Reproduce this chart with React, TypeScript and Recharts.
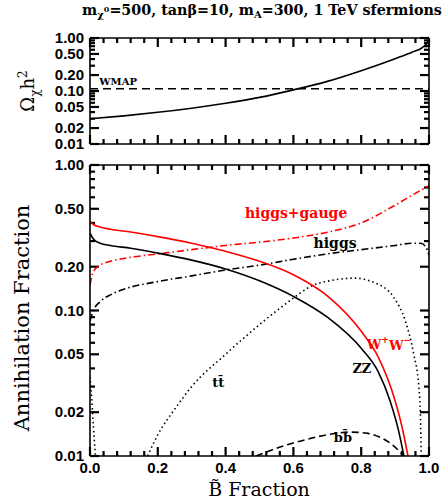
import React from 'react';
import { LineChart, Line, XAxis, YAxis, ReferenceDot, ReferenceLine } from 'recharts';

// tick positions
const xMajor = [0, 0.2, 0.4, 0.6, 0.8, 1.0];
const xAll = [0, 0.04, 0.08, 0.12, 0.16, 0.2, 0.24, 0.28, 0.32, 0.36, 0.4, 0.44, 0.48, 0.52, 0.56, 0.6,
  0.64, 0.68, 0.72, 0.76, 0.8, 0.84, 0.88, 0.92, 0.96, 1.0];
const yMajor = [0.01, 0.02, 0.05, 0.1, 0.2, 0.5, 1.0];
const yAll = [0.01, 0.02, 0.03, 0.04, 0.05, 0.06, 0.07, 0.08, 0.09, 0.1, 0.2, 0.3, 0.4, 0.5, 0.6, 0.7, 0.8, 0.9, 1.0];

// top panel: relic density
const omegaX = [0, 0.1, 0.2, 0.3, 0.4, 0.5, 0.6, 0.7, 0.8, 0.9, 0.95, 0.98, 0.995, 1.0];
const omegaY = [0.030, 0.034, 0.0396, 0.0474, 0.0587, 0.0757, 0.105, 0.152, 0.242, 0.408, 0.54, 0.66, 0.82, 1.0];
const wmapX = [0, 1];
const wmapY = [0.11, 0.11];

// bottom panel: annihilation fractions
const wwX = [0, 0.01, 0.03, 0.06, 0.12, 0.2, 0.3, 0.4, 0.5, 0.6, 0.7, 0.8, 0.85, 0.9, 0.92, 0.938];
const wwY = [0.41, 0.39, 0.375, 0.362, 0.346, 0.322, 0.29, 0.255, 0.218, 0.176, 0.126, 0.072, 0.048, 0.024, 0.016, 0.01];
const zzX = [0, 0.01, 0.03, 0.06, 0.12, 0.2, 0.3, 0.4, 0.5, 0.6, 0.7, 0.8, 0.85, 0.885, 0.91, 0.926];
const zzY = [0.34, 0.31, 0.29, 0.28, 0.268, 0.248, 0.222, 0.193, 0.16, 0.125, 0.09, 0.055, 0.038, 0.024, 0.015, 0.01];
const hgX = [0, 0.01, 0.03, 0.06, 0.1, 0.2, 0.3, 0.4, 0.5, 0.6, 0.7, 0.8, 0.9, 0.95, 1.0];
const hgY = [0.15, 0.185, 0.205, 0.218, 0.228, 0.245, 0.262, 0.28, 0.295, 0.315, 0.345, 0.40, 0.53, 0.62, 0.72];
const higgsX = [0, 0.01, 0.03, 0.06, 0.1, 0.2, 0.3, 0.4, 0.5, 0.6, 0.7, 0.8, 0.9, 0.95, 0.975, 0.99, 1.0];
const higgsY = [0.085, 0.10, 0.115, 0.128, 0.14, 0.158, 0.173, 0.19, 0.205, 0.225, 0.245, 0.262, 0.28, 0.29, 0.29, 0.275, 0.24];
const ttX = [0.17, 0.2, 0.25, 0.3, 0.4, 0.5, 0.59, 0.65, 0.72, 0.78, 0.84, 0.895, 0.93, 0.955, 0.97, 0.975, 0.977];
const ttY = [0.01, 0.014, 0.021, 0.03, 0.05, 0.08, 0.117, 0.146, 0.162, 0.167, 0.155, 0.124, 0.085, 0.05, 0.03, 0.018, 0.01];
const ttLowX = [0, 0.005, 0.01, 0.016];
const ttLowY = [0.035, 0.025, 0.016, 0.01];
const bbX = [0.49, 0.55, 0.6, 0.65, 0.7, 0.77, 0.82, 0.86, 0.9, 0.925];
const bbY = [0.01, 0.0113, 0.0123, 0.0132, 0.014, 0.0146, 0.0143, 0.0133, 0.0115, 0.01];

const pts = (xs: number[], ys: number[]) => xs.map((x, i) => ({ x, y: ys[i] }));

const serif = 'DejaVu Serif, serif';
const sans = 'Liberation Sans, Arial, sans-serif';
const frameLine = { stroke: '#000', strokeWidth: 1.6 };
const PLOT_W = 339;
const TICK_W = 2.2;

const isIn = (arr: number[], v: number) => arr.some((m) => Math.abs(m - v) < 1e-9);
const tickLen = (major: boolean) => (major ? 9 : 5);

// labels only, tick marks are reference segments
const xLabel = (labels: boolean) => (props: any) => {
  const { x, y, payload } = props;
  if (!labels || !isIn(xMajor, payload.value)) return <g />;
  return (
    <text x={x} y={y + 17} textAnchor="middle" fontFamily={sans} fontSize={15} fontWeight="bold" fill="#000">
      {payload.value.toFixed(1)}
    </text>
  );
};

const yLabel = (props: any) => {
  const { x, y, payload } = props;
  if (!isIn(yMajor, payload.value)) return <g />;
  return (
    <text x={x - 6} y={y + 5} textAnchor="end" fontFamily={sans} fontSize={15} fontWeight="bold" fill="#000">
      {payload.value.toFixed(2)}
    </text>
  );
};

// inward tick marks on all four sides; decadePx = pixels per decade of the panel
const tickMarks = (decadePx: number) => [
  ...xAll.flatMap((v) => {
    const f = Math.pow(10, tickLen(isIn(xMajor, v)) / decadePx);
    return [
      <ReferenceLine key={`xb${v}`} xAxisId="x" yAxisId="y" ifOverflow="visible"
        segment={[{ x: v, y: 0.01 }, { x: v, y: 0.01 * f }]} stroke="#000" strokeWidth={TICK_W} />,
      <ReferenceLine key={`xt${v}`} xAxisId="x" yAxisId="y" ifOverflow="visible"
        segment={[{ x: v, y: 1 }, { x: v, y: 1 / f }]} stroke="#000" strokeWidth={TICK_W} />,
    ];
  }),
  ...yAll.flatMap((v) => {
    const d = tickLen(isIn(yMajor, v)) / PLOT_W;
    return [
      <ReferenceLine key={`yl${v}`} xAxisId="x" yAxisId="y" ifOverflow="visible"
        segment={[{ x: 0, y: v }, { x: d, y: v }]} stroke="#000" strokeWidth={TICK_W} />,
      <ReferenceLine key={`yr${v}`} xAxisId="x" yAxisId="y" ifOverflow="visible"
        segment={[{ x: 1, y: v }, { x: 1 - d, y: v }]} stroke="#000" strokeWidth={TICK_W} />,
    ];
  }),
];

const frame = (labels: boolean) => [
  <XAxis key="x" xAxisId="x" dataKey="x" type="number" domain={[0, 1]} allowDataOverflow ticks={xAll}
    interval={0} height={labels ? 46 : 14} tickSize={0} tickMargin={0} axisLine={frameLine}
    tick={xLabel(labels)} />,
  <XAxis key="xt" xAxisId="xt" dataKey="x" type="number" domain={[0, 1]} allowDataOverflow
    orientation="top" mirror height={10} tick={false} tickLine={false} axisLine={frameLine} />,
  <YAxis key="y" yAxisId="y" dataKey="y" type="number" scale="log" domain={[0.01, 1]} allowDataOverflow ticks={yAll}
    interval={0} width={90} tickSize={0} tickMargin={0} axisLine={frameLine} tick={yLabel} />,
  <YAxis key="yr" yAxisId="yr" dataKey="y" type="number" scale="log" domain={[0.01, 1]} allowDataOverflow
    orientation="right" mirror width={10} tick={false} tickLine={false} axisLine={frameLine} />,
];

const curve = (key: string, data: any[], color: string, dash?: string) => (
  <Line key={key} xAxisId="x" yAxisId="y" data={data} dataKey="y" type="monotone" stroke={color}
    strokeWidth={1.6} strokeDasharray={dash} dot={false} activeDot={false} isAnimationActive={false} />
);

const labelText = (kind: string, color: string, size: number) => (p: any) => {
  const style = { fontFamily: serif, fontWeight: 'bold' as const, fontSize: size, fill: color };
  let body: React.ReactNode = kind;
  if (kind === 'WW') body = <>W<tspan dy={-6} fontSize={size * 0.7}>+</tspan><tspan dy={6}>W</tspan><tspan dy={-6} fontSize={size * 0.7}>−</tspan></>;
  if (kind === 'tt') body = <>tt{'\u0304'}</>;
  if (kind === 'bb') body = <>bb{'\u0304'}</>;
  return <text x={p.cx} y={p.cy} textAnchor="middle" dominantBaseline="central" style={style}>{body}</text>;
};

const note = (key: string, x: number, y: number, kind: string, color: string, size = 13) => (
  <ReferenceDot key={key} xAxisId="x" yAxisId="y" x={x} y={y} r={0} shape={labelText(kind, color, size)} />
);

export default function App() {
  return (
    <div style={{ position: 'absolute', left: 0, top: 0, width: 443, height: 502, background: '#fff' }}>
      <div style={{ position: 'absolute', left: 0, top: 0 }}>
        <LineChart width={443} height={158} data={pts(wmapX, wmapY)} margin={{ top: 38, right: 14, bottom: 0, left: 0 }}>
          {frame(false)}
          {tickMarks(53)}
          {curve('omega', pts(omegaX, omegaY), '#000')}
          {curve('wmap', pts(wmapX, wmapY), '#000', '8 5')}
          {note('wmap-l', 0.083, 0.148, 'WMAP', '#000', 10)}
        </LineChart>
      </div>
      <div style={{ position: 'absolute', left: 0, top: 150 }}>
        <LineChart width={443} height={352} data={pts(hgX, hgY)} margin={{ top: 15, right: 14, bottom: 0, left: 0 }}>
          {frame(true)}
          {tickMarks(145.5)}
          {curve('hg', pts(hgX, hgY), '#ff0000', '7 3 1.5 3')}
          {curve('higgs', pts(higgsX, higgsY), '#000', '7 3 1.5 3')}
          {curve('tt', pts(ttX, ttY), '#000', '1.5 3')}
          {curve('ttlow', pts(ttLowX, ttLowY), '#000', '1.5 3')}
          {curve('bb', pts(bbX, bbY), '#000', '7 4')}
          {curve('zz', pts(zzX, zzY), '#000')}
          {curve('ww', pts(wwX, wwY), '#ff0000')}
          {note('hg-l', 0.608, 0.468, 'higgs+gauge', '#ff0000', 14)}
          {note('higgs-l', 0.723, 0.291, 'higgs', '#000', 14)}
          {note('ww-l', 0.882, 0.058, 'WW', '#ff0000', 13)}
          {note('zz-l', 0.802, 0.040, 'ZZ', '#000', 13)}
          {note('tt-l', 0.378, 0.0318, 'tt', '#000', 13)}
          {note('bb-l', 0.746, 0.0135, 'bb', '#000', 13)}
        </LineChart>
      </div>
      <svg width={443} height={502} style={{ position: 'absolute', left: 0, top: 0, pointerEvents: 'none' }}>
        <text x={262} y={15} textAnchor="middle" style={{ fontFamily: serif, fontWeight: 'bold', fontSize: 14.3 }}>
          m<tspan dy={3} fontSize={10}>χ</tspan><tspan dy={-6} fontSize={8}>0</tspan><tspan dy={3}>=500, tan</tspan>β<tspan>=10, m</tspan>
          <tspan dy={3} fontSize={10}>A</tspan><tspan dy={-3}>=300, 1 TeV sfermions</tspan>
        </text>
        <text transform="translate(34,91) rotate(-90)" textAnchor="middle" style={{ fontFamily: serif, fontSize: 18 }}>
          Ω<tspan dy={5} fontSize={12}>χ</tspan><tspan dy={-5}>h</tspan><tspan dy={-7} fontSize={12}>2</tspan>
        </text>
        <text transform="translate(29,318) rotate(-90)" textAnchor="middle" style={{ fontFamily: serif, fontSize: 21 }}>
          Annihilation Fraction
        </text>
        <text x={259} y={496} textAnchor="middle" style={{ fontFamily: serif, fontSize: 19 }}>
          B{'\u0303'} Fraction
        </text>
      </svg>
    </div>
  );
}
